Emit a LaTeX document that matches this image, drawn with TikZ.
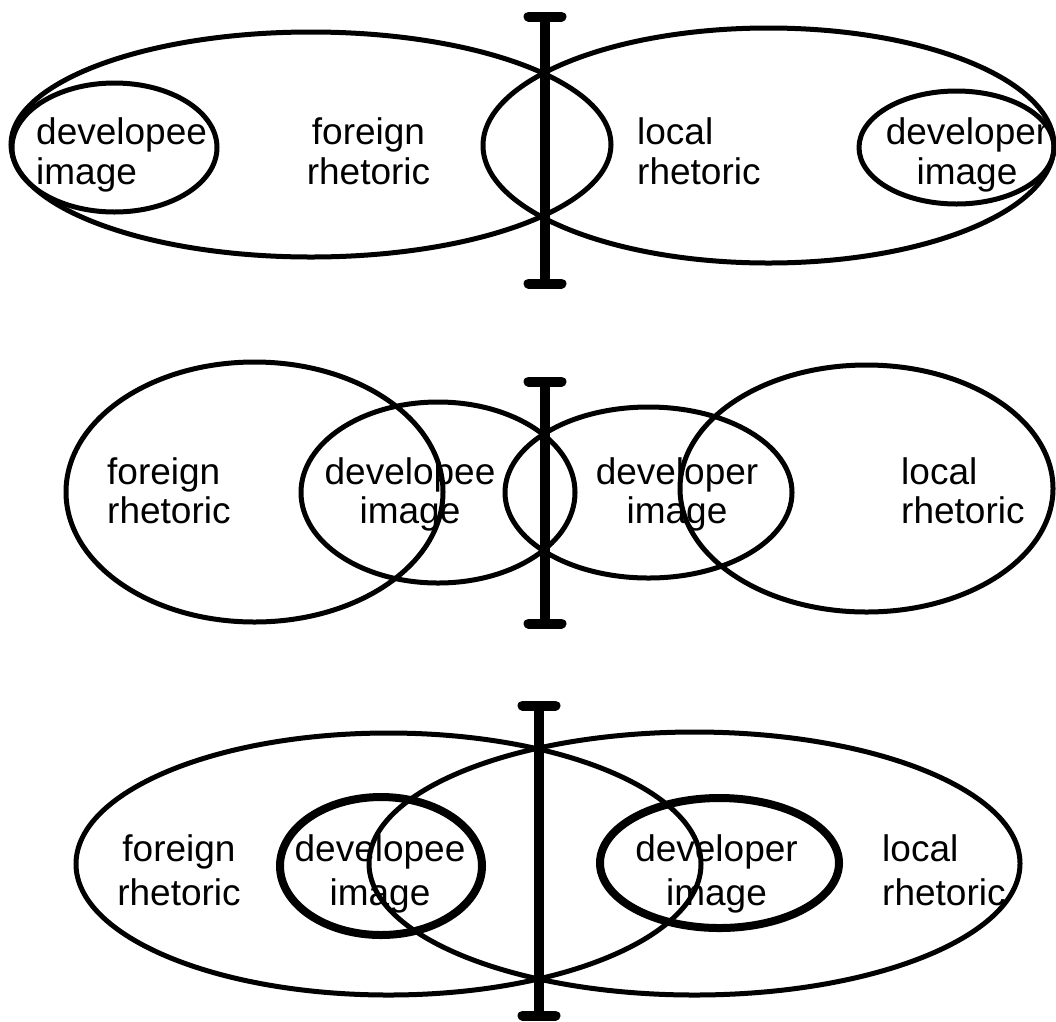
\documentclass[tikz,border=0pt]{standalone}
\usepackage{fontspec}
\setmainfont{Liberation Sans}
\usetikzlibrary{shapes.geometric,arrows.meta}
\tikzset{
  venn/.style={ellipse, draw, line width=5pt, inner sep=0pt},
  vennthick/.style={venn, line width=8pt},
  lbl/.style={font=\fontsize{37pt}{#1}\selectfont, inner sep=0pt},
  lbl/.default=40pt,
  ibar/.style={line width=10pt, arrows={Bar[width=33pt,round]-Bar[width=33pt,round]}}
}
\begin{document}
\begin{tikzpicture}[x=1pt, y=-1pt]
  \useasboundingbox (0, 0) rectangle (1056, 1021);
  \foreach \nm/\cx/\cy/\w/\h in {forA/311/144.5/600/225, locA/768.5/145.5/571/235,
    deveeA/114.5/147.5/205/129, deverA/956.5/147.5/195/113,
    forB/254.5/492/377/260, deveeB/438/492.5/274/181,
    deverB/648.5/492.5/287/171, locB/866.5/488.5/373/247,
    forC/388.5/864/625/262, locC/694.5/863.5/651/263}
  \node at (\cx, \cy) [venn, minimum width=\w pt, minimum height=\h pt] (\nm) {};
  \node at (381, 866) [vennthick, minimum width=202pt, minimum height=138pt] (deveeC) {};
  \node at (719.5, 863) [vennthick, minimum width=239pt, minimum height=130pt] (deverC) {};

  \node at (36, 117.5) [lbl, anchor=north west, align=left] (deveeAtxt) {developee\\image};
  \node at (368.5, 117.5) [lbl, anchor=north, align=center] (forAtxt) {foreign\\rhetoric};
  \node at (637, 117.5) [lbl, anchor=north west, align=left] (locAtxt) {local\\rhetoric};
  \node at (967, 117.5) [lbl, anchor=north, align=center] (deverAtxt) {developer\\image};

  \node at (107, 457) [lbl=39pt, anchor=north west, align=left] (forBtxt) {foreign\\rhetoric};
  \node at (410, 457) [lbl=39pt, anchor=north, align=center] (deveeBtxt) {developee\\image};
  \node at (677, 457) [lbl=39pt, anchor=north, align=center] (deverBtxt) {developer\\image};
  \node at (901, 457) [lbl=39pt, anchor=north west, align=left] (locBtxt) {local\\rhetoric};

  \node at (179, 834) [lbl=44pt, anchor=north, align=center] (forCtxt) {foreign\\rhetoric};
  \node at (380, 834) [lbl=44pt, anchor=north, align=center] (deveeCtxt) {developee\\image};
  \node at (716.5, 834) [lbl=44pt, anchor=north, align=center] (deverCtxt) {developer\\image};
  \node at (882, 834) [lbl=44pt, anchor=north west, align=left] (locCtxt) {local\\rhetoric};

  \foreach \bx/\ya/\yb [count=\i] in {545/11.5/288.5, 545/376.5/628.5, 539/700.5/1020.5} {
    \coordinate (bartop\i) at (\bx, \ya);
    \coordinate (barbot\i) at (\bx, \yb);
    \draw[ibar] (bartop\i) -- (barbot\i);
  }
\end{tikzpicture}
\end{document}
